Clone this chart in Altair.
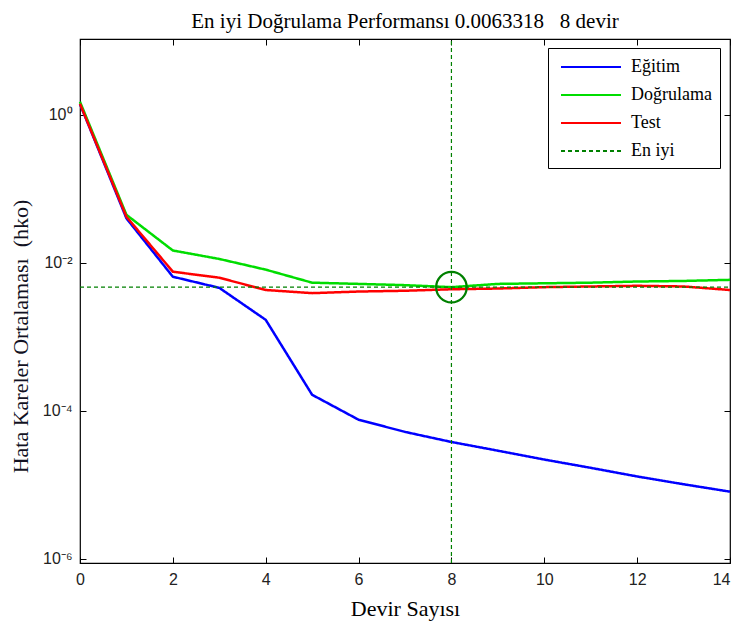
import altair as alt
import pandas as pd

# ---- data ----
epochs = list(range(15))
series_names = ["Eğitim", "Doğrulama", "Test", "En iyi"]
series_colors = ["#0000ff", "#00dd00", "#ff0000", "#008000"]

egitim = [1.40, 0.040, 0.0065, 0.0046, 0.0017, 1.65e-4, 7.6e-5, 5.2e-5,
          3.8e-5, 2.9e-5, 2.2e-5, 1.7e-5, 1.3e-5, 1.02e-5, 8.1e-6]
dogrulama = [1.50, 0.0446, 0.0147, 0.0113, 0.0081, 0.0054, 0.0052, 0.0050,
             0.0047, 0.0052, 0.0053, 0.0054, 0.0056, 0.0057, 0.0059]
test = [1.41, 0.042, 0.0076, 0.0063, 0.0043, 0.0039, 0.0041, 0.0042,
        0.0044, 0.0045, 0.0047, 0.0048, 0.0049, 0.0048, 0.0043]

best_epoch = 8
best_value = 0.0047
title_text = "En iyi Doğrulama Performansı 0.0063318\u00a0\u00a0\u00a08 devir"
x_title = "Devir Sayısı"
y_title = "Hata Kareler Ortalaması\u00a0\u00a0(hko)"

x_ticks = [0, 2, 4, 6, 8, 10, 12, 14]
y_ticks = [1e-6, 1e-4, 1e-2, 1]
x_domain = [0, 14]
y_domain = [8.8e-7, 10.6]

W, H = 650, 524
SERIF = "Liberation Serif"
SANS = "Liberation Sans"

rows = []
for name, vals in zip(series_names[:3], [egitim, dogrulama, test]):
    for e, v in zip(epochs, vals):
        rows.append({"epoch": e, "value": v, "series": name})
lines_df = pd.DataFrame(rows)

hrule_df = pd.DataFrame({"x": [x_domain[0]], "x2": [x_domain[1]],
                         "y": [best_value], "series": ["En iyi"]})
vrule_df = pd.DataFrame({"x": [best_epoch], "y": [y_domain[0]],
                         "y2": [y_domain[1]], "series": ["En iyi"]})
circle_df = pd.DataFrame({"x": [best_epoch], "y": [best_value]})

X_SCALE = alt.Scale(domain=x_domain, nice=False, zero=False)
Y_SCALE = alt.Scale(type="log", domain=y_domain, nice=False)
color_scale = alt.Scale(domain=series_names, range=series_colors)
dash_scale = alt.Scale(domain=series_names,
                       range=[[1, 0], [1, 0], [1, 0], [4, 3]])

legend = alt.Legend(
    title=None, orient="none", legendX=468, legendY=9,
    symbolType="M-0.6,0H5.4", symbolSize=400, symbolStrokeWidth=2,
    labelFont=SERIF, labelFontSize=18, labelColor="black",
    strokeColor="black", fillColor="white", padding=8, rowPadding=8,
    labelOffset=53, cornerRadius=0,
)

label_expr = ("datum.value > 0.5 ? '10\u2070' : datum.value > 0.005 ? '10\u207b\u00b2' : "
              "datum.value > 0.00005 ? '10\u207b\u2074' : '10\u207b\u2076'")

x_main = alt.Axis(orient="bottom", values=x_ticks, format="d", tickSize=0,
                  domain=False, grid=False, labelFont=SANS, labelFlush=False,
                  labelAlign={"condition": {"test": "datum.value >= 14", "value": "right"},
                              "value": "center"},
                  labelFontSize=16, labelColor="#222222", labelPadding=8,
                  titleFont=SERIF, titleFontSize=22,
                  titleFontWeight="normal", titleColor="black", titlePadding=11)
y_main = alt.Axis(orient="left", values=y_ticks, labelExpr=label_expr,
                  tickSize=0, domain=False, grid=False, labelFlush=False,
                  labelFont=SANS, labelFontSize=16,
                  labelColor="#222222", labelPadding=8,
                  titleFont=SERIF, titleFontSize=22,
                  titleFontWeight="normal", titleColor="#111122",
                  titleX=-53, titleY=297, titleBaseline="alphabetic",
                  titleAngle=270)


def tick_axis(orient):
    return alt.Axis(orient=orient, offset=-(H if orient in ("top", "bottom") else W),
                    values=(x_ticks if orient in ("top", "bottom") else y_ticks),
                    labels=False, ticks=True, tickSize=6, tickColor="black",
                    tickWidth=1, domain=False, grid=False)


layers = []
for i, name in enumerate(series_names[:3]):
    layers.append(
        alt.Chart(lines_df).transform_filter(alt.datum.series == name)
        .mark_line(strokeWidth=2.5)
        .encode(
            x=alt.X("epoch:Q", scale=X_SCALE,
                    axis=(x_main if i == 0 else None), title=x_title),
            y=alt.Y("value:Q", scale=Y_SCALE,
                    axis=(y_main if i == 0 else None), title=y_title),
            color=alt.Color("series:N", scale=color_scale, legend=legend),
            strokeDash=alt.StrokeDash("series:N", scale=dash_scale, legend=legend),
        )
    )

hrule = alt.Chart(hrule_df).mark_rule(strokeWidth=1.2).encode(
    x=alt.X("x:Q", scale=X_SCALE, axis=tick_axis("top"), title=""),
    x2="x2:Q",
    y=alt.Y("y:Q", scale=Y_SCALE, axis=tick_axis("right"), title=""),
    color=alt.Color("series:N", scale=color_scale, legend=legend),
    strokeDash=alt.StrokeDash("series:N", scale=dash_scale, legend=legend),
)

vrule = alt.Chart(vrule_df).mark_rule(strokeWidth=1.2).encode(
    x=alt.X("x:Q", scale=X_SCALE, axis=tick_axis("bottom"), title=""),
    y=alt.Y("y:Q", scale=Y_SCALE, axis=tick_axis("left"), title=""),
    y2="y2:Q",
    color=alt.Color("series:N", scale=color_scale, legend=legend),
    strokeDash=alt.StrokeDash("series:N", scale=dash_scale, legend=legend),
)

circle = alt.Chart(circle_df).mark_point(
    shape="circle", size=930, filled=False, stroke="#008000", strokeWidth=2.2,
    opacity=1,
).encode(
    x=alt.X("x:Q", scale=X_SCALE, axis=None),
    y=alt.Y("y:Q", scale=Y_SCALE, axis=None),
)

chart = (
    alt.layer(*layers, hrule, vrule, circle)
    .resolve_axis(x="independent", y="independent")
    .properties(
        width=W, height=H,
        title=alt.TitleParams(text=title_text, font=SERIF,
                              fontSize=21, fontWeight="normal", color="black",
                              offset=6, anchor="middle"),
        autosize=alt.AutoSizeParams(type="none"),
        padding={"left": 72, "top": 31, "right": 2, "bottom": 58},
        background="white",
    )
    .configure_view(stroke="black", strokeWidth=1.2)
    .configure_legend(labelFont=SERIF, labelFontSize=18)
)

chart.save("out.html", embed_options={"renderer": "svg", "actions": False})
